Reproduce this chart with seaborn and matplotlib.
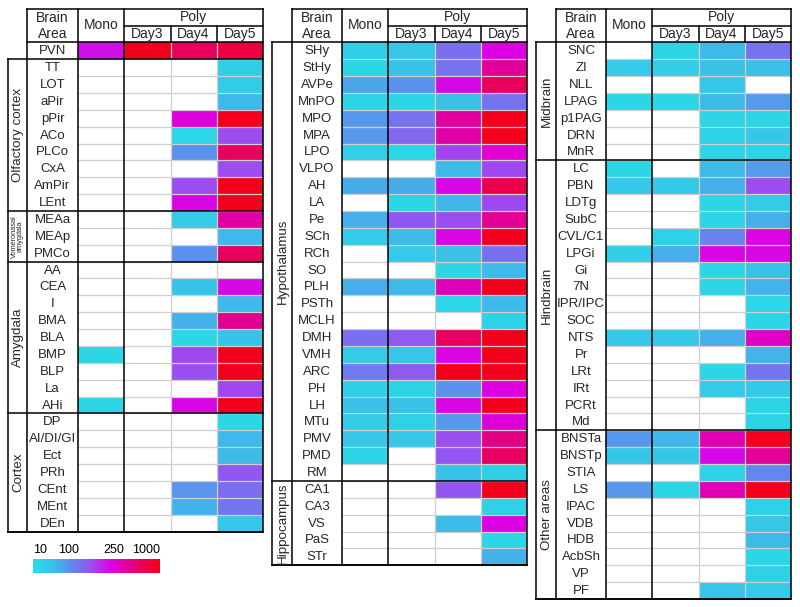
import numpy as np
import pandas as pd
import matplotlib
matplotlib.use("Agg")
import matplotlib.pyplot as plt
import seaborn as sns
from matplotlib.colors import LinearSegmentedColormap, FuncNorm
from matplotlib.cm import ScalarMappable

sns.set_theme(style="white")
plt.rcParams["font.family"] = ["Liberation Sans", "DejaVu Sans"]

N = np.nan
columns = ["Mono", "Day3", "Day4", "Day5"]

# ---------------- Panel 1 ----------------
p1_areas = ["PVN", "TT", "LOT", "aPir", "pPir", "ACo", "PLCo", "CxA", "AmPir", "LEnt",
            "MEAa", "MEAp", "PMCo",
            "AA", "CEA", "I", "BMA", "BLA", "BMP", "BLP", "La", "AHi",
            "DP", "AI/DI/GI", "Ect", "PRh", "CEnt", "MEnt", "DEn"]
p1_mono = [280, N, N, N, N, N, N, N, N, N,
           N, N, N,
           N, N, N, N, N, 15, N, N, 15,
           N, N, N, N, N, N, N]
p1_day3 = [950, N, N, N, N, N, N, N, N, N,
           N, N, N,
           N, N, N, N, N, N, N, N, N,
           N, N, N, N, N, N, N]
p1_day4 = [620, N, N, N, 320, 15, 100, N, 185, 300,
           25, N, 100,
           N, 30, N, 50, 14, 190, 180, N, 300,
           N, N, N, N, 95, 50, N]
p1_day5 = [750, 20, 24, 42, 950, 185, 620, 185, 950, 950,
           430, 42, 620,
           N, 290, 42, 470, 30, 950, 950, 190, 950,
           14, 42, 40, 170, 140, 130, 28]
p1_groups = ["Olfactory cortex", "Vomeronasal\namygdala", "Amygdala", "Cortex"]
p1_group_sizes = [9, 3, 9, 7]

# ---------------- Panel 2 ----------------
p2_areas = ["SHy", "StHy", "AVPe", "MnPO", "MPO", "MPA", "LPO", "VLPO", "AH", "LA",
            "Pe", "SCh", "RCh", "SO", "PLH", "PSTh", "MCLH", "DMH", "VMH", "ARC",
            "PH", "LH", "MTu", "PMV", "PMD", "RM",
            "CA1", "CA3", "VS", "PaS", "STr"]
p2_mono = [20, 14, 65, 15, 90, 90, 20, N, 60, N,
           55, 25, N, N, 55, N, N, 140, 25, 125,
           20, 35, 25, 28, 16, N,
           N, N, N, N, N]
p2_day3 = [28, 32, 100, 15, 135, 150, 15, N, 60, 15,
           170, 40, 25, N, 40, N, N, 165, 28, 165,
           16, 35, 18, 28, N, N,
           N, N, N, N, N]
p2_day4 = [140, 135, 290, 35, 440, 420, 195, 40, 300, 45,
           185, 300, 35, 15, 380, 15, N, 600, 300, 950,
           100, 300, 90, 185, 175, 30,
           175, N, 40, N, N]
p2_day5 = [310, 450, 620, 135, 950, 950, 340, 190, 680, 190,
           460, 950, 140, 42, 950, 42, 18, 950, 950, 950,
           320, 950, 330, 500, 600, 20,
           950, 18, 310, 15, 50]
p2_groups = ["Hypothalamus", "Hippocampus"]
p2_group_sizes = [26, 5]

# ---------------- Panel 3 ----------------
p3_areas = ["SNC", "ZI", "NLL", "LPAG", "p1PAG", "DRN", "MnR",
            "LC", "PBN", "LDTg", "SubC", "CVL/C1", "LPGi", "Gi", "7N", "IPR/IPC", "SOC",
            "NTS", "Pr", "LRt", "IRt", "PCRt", "Md",
            "BNSTa", "BNSTp", "STIA", "LS", "IPAC", "VDB", "HDB", "AcbSh", "VP", "PF"]
p3_mono = [N, 25, N, 14, N, N, N,
           14, 28, N, N, N, 20, N, N, N, N,
           28, N, N, N, N, N,
           90, 28, N, 90, N, N, N, N, N, N]
p3_day3 = [16, 22, N, 14, N, N, N,
           N, 28, N, N, 18, 55, N, N, N, N,
           28, N, N, N, N, N,
           45, 28, N, 17, N, N, N, N, N, N]
p3_day4 = [40, 35, 28, 40, 15, 17, 15,
           40, 55, 15, 15, 115, 300, 15, 15, N, N,
           55, N, 15, 24, N, N,
           400, 290, 17, 400, N, N, N, N, N, 28]
p3_day5 = [135, 35, N, 85, 15, 28, 15,
           85, 185, 24, 55, 300, 300, 32, 48, 15, 15,
           360, 48, 130, 26, 16, 16,
           950, 450, 110, 950, 18, 28, 40, 15, 18, 24]
p3_groups = ["Midbrain", "Hindbrain", "Other areas"]
p3_group_sizes = [7, 16, 10]

# ---------------- colour scale ----------------
cbar_ticks = [10, 100, 250, 1000]
cbar_pos = [0.0, 0.28, 0.55, 1.0]
cmap = LinearSegmentedColormap.from_list("cnt", [
    (0.00, "#26dfe4"), (0.12, "#35c8e8"), (0.22, "#48abe9"), (0.30, "#6289ee"),
    (0.38, "#7a6fef"), (0.46, "#9a4ef0"), (0.55, "#c21fea"), (0.62, "#de00e4"),
    (0.72, "#e000a8"), (0.82, "#e60068"), (1.00, "#f30015")])
LOGT = np.log10(cbar_ticks)


def fwd(v):
    return np.interp(np.log10(np.asarray(v, dtype=float)), LOGT, cbar_pos)


def inv(t):
    return 10 ** np.interp(np.asarray(t, dtype=float), cbar_pos, LOGT)


norm = FuncNorm((fwd, inv), vmin=10, vmax=1000)

W, H = 800, 607
fig = plt.figure(figsize=(W / 100, H / 100), dpi=100)
fig.patch.set_facecolor("white")
ov = fig.add_axes([0, 0, 1, 1])
ov.set_xlim(0, W)
ov.set_ylim(H, 0)
ov.axis("off")
ov.set_zorder(5)
ov.patch.set_alpha(0)

Y_TOP, Y_MID, Y_HEAD, RH = 8.5, 25.5, 42.3, 16.87
BLK = dict(color="black", lw=1.1, solid_capstyle="projecting")
GRY = dict(color="#cfcfcf", lw=0.9)
FS_NAME, FS_HEAD, FS_DAY, FS_GROUP = 9.5, 10, 10, 9.6


def hl(y, x0, x1, st):
    ov.plot([x0, x1], [y, y], **st)


def vl(x, y0, y1, st):
    ov.plot([x, x], [y0, y1], **st)


def draw_panel(areas, cols, groups, sizes, g, n, m, r, offset):
    nrows = len(areas)
    y_bot = Y_HEAD + nrows * RH
    axh = fig.add_axes([m / W, 1 - y_bot / H, (r - m) / W, nrows * RH / H])
    df = pd.DataFrame(dict(zip(columns, cols)), index=areas)
    sns.heatmap(df, ax=axh, cmap=cmap, norm=norm, cbar=False,
                xticklabels=False, yticklabels=False)
    axh.set_facecolor("white")
    xs = [m + i * (r - m) / 4 for i in range(5)]
    # light grid
    for i in range(1, nrows):
        hl(Y_HEAD + i * RH, m, r, GRY)
    vl(xs[2], Y_HEAD, y_bot, GRY)
    vl(xs[3], Y_HEAD, y_bot, GRY)
    # black frame
    gtop = Y_HEAD + offset * RH
    hl(Y_TOP, n, r, BLK)
    hl(Y_MID, xs[1], r, BLK)
    hl(Y_HEAD, g if offset == 0 else n, r, BLK)
    hl(y_bot, g, r, BLK)
    for x in (n, m, xs[1], r):
        vl(x, Y_TOP, y_bot, BLK)
    vl(xs[2], Y_MID, Y_HEAD, BLK)
    vl(xs[3], Y_MID, Y_HEAD, BLK)
    vl(g, gtop, y_bot, BLK)
    row = offset
    if offset:
        hl(gtop, g, r, BLK)
    for lab, sz in zip(groups, sizes):
        y0 = Y_HEAD + row * RH
        y1 = Y_HEAD + (row + sz) * RH
        hl(y1, g, r, BLK)
        if "\n" in lab:
            ov.text((g + n) / 2, (y0 + y1) / 2, lab, rotation=90, ha="center", va="center",
                    fontsize=5.3, linespacing=0.9)
        else:
            ov.text((g + n) / 2 + 0.5, (y0 + y1) / 2, lab, rotation=90, ha="center",
                    va="center", fontsize=FS_GROUP)
        row += sz
    # texts
    for i, a in enumerate(areas):
        ov.text((n + m) / 2, Y_HEAD + (i + 0.5) * RH + 0.5, a, ha="center", va="center",
                fontsize=FS_NAME)
    ov.text((n + m) / 2, (Y_TOP + Y_MID) / 2 + 0.5, "Brain", ha="center", va="center", fontsize=FS_HEAD)
    ov.text((n + m) / 2, (Y_MID + Y_HEAD) / 2 + 0.5, "Area", ha="center", va="center", fontsize=FS_HEAD)
    ov.text((xs[0] + xs[1]) / 2, (Y_TOP + Y_HEAD) / 2, "Mono", ha="center", va="center", fontsize=FS_HEAD)
    ov.text((xs[1] + xs[4]) / 2, (Y_TOP + Y_MID) / 2 + 0.5, "Poly", ha="center", va="center", fontsize=FS_HEAD)
    for j in range(3):
        ov.text((xs[j + 1] + xs[j + 2]) / 2, (Y_MID + Y_HEAD) / 2 + 0.5, columns[j + 1],
                ha="center", va="center", fontsize=FS_DAY)


draw_panel(p1_areas, [p1_mono, p1_day3, p1_day4, p1_day5], p1_groups, p1_group_sizes,
           8, 27, 78, 263, 1)
draw_panel(p2_areas, [p2_mono, p2_day3, p2_day4, p2_day5], p2_groups, p2_group_sizes,
           272, 292, 342, 527, 0)
draw_panel(p3_areas, [p3_mono, p3_day3, p3_day4, p3_day5], p3_groups, p3_group_sizes,
           536, 556, 606, 791, 0)

# colour bar
cax = fig.add_axes([33 / W, 1 - 573 / H, 127 / W, 14 / H])
cb = fig.colorbar(ScalarMappable(norm=norm, cmap=cmap), cax=cax, orientation="horizontal",
                  ticks=cbar_ticks)
cb.outline.set_visible(False)
cax.xaxis.set_ticks_position("top")
cax.set_xticklabels([str(t) for t in cbar_ticks])
cax.tick_params(axis="x", direction="in", length=9, width=1, colors="black", labelsize=9, pad=2)
labs = cax.get_xticklabels()
labs[0].set_ha("left")
labs[-1].set_ha("right")
labs[2].set_ha("left")
mt = cax.xaxis.get_major_ticks()
mt[0].tick2line.set_visible(False)
mt[-1].tick2line.set_visible(False)

fig.savefig("out.png", dpi=100, facecolor="white")
